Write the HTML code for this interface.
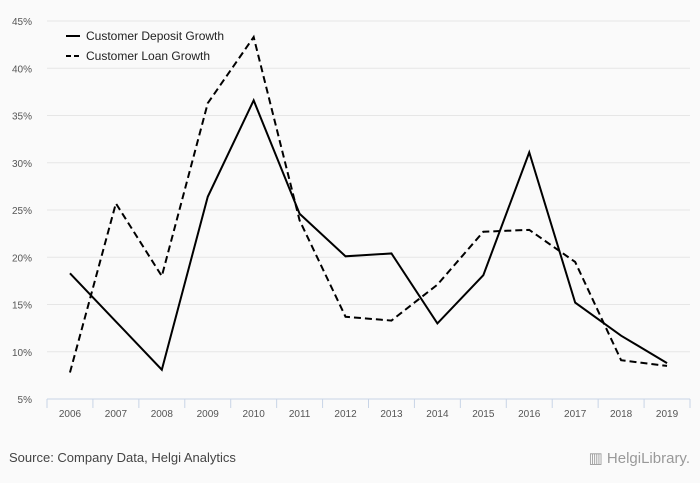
<!DOCTYPE html>
<html><head><meta charset="utf-8"><style>
html,body{margin:0;padding:0;background:#fafafa;}
svg{display:block;font-family:"Liberation Sans",sans-serif;}
</style></head><body>
<svg id="chart" width="700" height="483">
<rect width="700" height="483" fill="#fafafa"/>
<g id="grid"></g><g id="xaxis"></g><g id="series"></g>
<g>
<line x1="66" y1="36" x2="80" y2="36" stroke="#000" stroke-width="2"/>
<text x="86" y="40" font-size="12" fill="#222">Customer Deposit Growth</text>
<line x1="66" y1="56" x2="80" y2="56" stroke="#000" stroke-width="2" stroke-dasharray="5,3"/>
<text x="86" y="60" font-size="12" fill="#222">Customer Loan Growth</text>
</g>
<text x="9" y="462" font-size="13" fill="#444">Source: Company Data, Helgi Analytics</text>
<text x="690" y="463" font-size="15" fill="#999" text-anchor="end">▥ HelgiLibrary.</text>
</svg>
<script>
const years=["2006","2007","2008","2009","2010","2011","2012","2013","2014","2015","2016","2017","2018","2019"];
const deposit=[18.3,13.2,8.1,26.4,36.6,24.6,20.1,20.4,13.0,18.1,31.1,15.2,11.7,8.8];
const loan=[7.8,25.7,18.0,36.3,43.3,23.9,13.7,13.3,17.1,22.7,22.9,19.5,9.1,8.5];
const yTicks=[5,10,15,20,25,30,35,40,45];
const NS="http://www.w3.org/2000/svg";
const x0=47,x1=690,yb=399,yt=21;
const bw=(x1-x0)/years.length;
const xs=i=>x0+bw*(i+0.5);
const ys=v=>yb-(v-5)/40*(yb-yt);
const grid=document.getElementById('grid');
yTicks.forEach(t=>{
 const l=document.createElementNS(NS,'line');
 l.setAttribute('x1',x0);l.setAttribute('x2',x1);l.setAttribute('y1',ys(t));l.setAttribute('y2',ys(t));
 l.setAttribute('stroke',t===5?'#c8d4e6':'#e6e6e6');l.setAttribute('stroke-width','1');
 
 
 grid.appendChild(l);
 const tx=document.createElementNS(NS,'text');
 tx.setAttribute('x',32);tx.setAttribute('y',ys(t)+4);tx.setAttribute('text-anchor','end');
 tx.setAttribute('font-size','10');tx.setAttribute('fill','#555');tx.textContent=t+'%';
 
 
 grid.appendChild(tx);
});
const xa=document.getElementById('xaxis');
for(let i=0;i<=years.length;i++){
 const l=document.createElementNS(NS,'line');
 const x=x0+bw*i;
 l.setAttribute('x1',x);l.setAttribute('x2',x);l.setAttribute('y1',yb);l.setAttribute('y2',yb+9);
 l.setAttribute('stroke','#c8d4e6');
 
 
 xa.appendChild(l);
}
years.forEach((y,i)=>{
 const tx=document.createElementNS(NS,'text');
 tx.setAttribute('x',xs(i));tx.setAttribute('y',417);tx.setAttribute('text-anchor','middle');
 tx.setAttribute('font-size','10');tx.setAttribute('fill','#555');tx.textContent=y;
 
 
 xa.appendChild(tx);
});
const sg=document.getElementById('series');
function line(vals,name,dash){
 const p=document.createElementNS(NS,'path');
 p.setAttribute('d',vals.map((v,i)=>(i?'L':'M')+xs(i)+' '+ys(v)).join(' '));
 p.setAttribute('fill','none');p.setAttribute('stroke','#000');p.setAttribute('stroke-width','2');
 if(dash)p.setAttribute('stroke-dasharray','7,4');
 
 
 sg.appendChild(p);
}
line(deposit,'deposit-growth-line',false);
line(loan,'loan-growth-line',true);
</script>
</body></html>
